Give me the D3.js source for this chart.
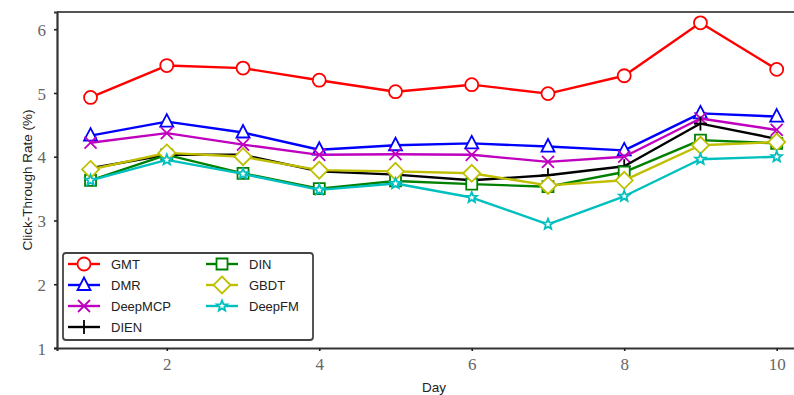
<!DOCTYPE html>
<html>
<head>
<meta charset="utf-8">
<script src="https://cdn.jsdelivr.net/npm/d3@7"></script>
<style>
  body { margin: 0; background: #fff; }
  svg { display: block; }
</style>
</head>
<body>
<div id="viz"></div>
<script>
const width = 794;
const height = 395;
const margin = {top: 12, right: -17, bottom: 46, left: 57};

const days = [1, 2, 3, 4, 5, 6, 7, 8, 9, 10];
const xTicks = [2, 4, 6, 8, 10];
const yTicks = [1, 2, 3, 4, 5, 6];

const names = ['GMT', 'DMR', 'DeepMCP', 'DIEN', 'DIN', 'GBDT', 'DeepFM'];
const gmt     = [4.93, 5.43, 5.39, 5.20, 5.02, 5.13, 4.99, 5.27, 6.10, 5.37];
const dmr     = [4.33, 4.55, 4.38, 4.11, 4.18, 4.21, 4.16, 4.10, 4.68, 4.63];
const deepmcp = [4.22, 4.37, 4.19, 4.03, 4.04, 4.03, 3.92, 4.00, 4.60, 4.42];
const dien    = [3.82, 4.03, 4.03, 3.77, 3.72, 3.63, 3.71, 3.85, 4.52, 4.28];
const din     = [3.63, 4.03, 3.74, 3.50, 3.62, 3.57, 3.53, 3.76, 4.26, 4.21];
const gbdt    = [3.80, 4.06, 4.00, 3.79, 3.77, 3.74, 3.55, 3.63, 4.18, 4.23];
const deepfm  = [3.63, 3.95, 3.73, 3.48, 3.58, 3.36, 2.94, 3.38, 3.96, 4.00];
const seriesValues = [gmt, dmr, deepmcp, dien, din, gbdt, deepfm];

const colors = ['#ff0000', '#0000ff', '#bf00bf', '#000000', '#008000', '#bfbf00', '#00bfbf'];
const markers = ['circle', 'triangle', 'x', 'plus', 'square', 'diamond', 'star'];

// marker outlines, centred on 0,0
function markerPath(type) {
  if (type === 'circle') {
    return 'M6.5,0 A6.5,6.5 0 1,1 -6.5,0 A6.5,6.5 0 1,1 6.5,0 Z';
  }
  if (type === 'triangle') return 'M0,-7.5 L6.5,5 L-6.5,5 Z';
  if (type === 'square') return 'M-5.5,-5.5 L5.5,-5.5 L5.5,5.5 L-5.5,5.5 Z';
  if (type === 'diamond') return 'M0,-8.5 L8.5,0 L0,8.5 L-8.5,0 Z';
  if (type === 'x') return 'M-6,-6 L6,6 M-6,6 L6,-6';
  if (type === 'plus') return 'M-6.5,0 L6.5,0 M0,-7 L0,7';
  if (type === 'star') {
    let p = '';
    for (let i = 0; i < 10; i++) {
      const r = i % 2 === 0 ? 5.5 : 2.4;
      const a = -Math.PI / 2 + i * Math.PI / 5;
      p += (i === 0 ? 'M' : 'L') + (r * Math.cos(a)).toFixed(2) + ',' + (r * Math.sin(a)).toFixed(2);
    }
    return p + 'Z';
  }
}

const svg = d3.select('#viz')
  .append('svg')
    .attr('width', width)
    .attr('height', height);

const x = d3.scaleLinear()
  .domain([0.56, 10.45])
  .range([margin.left, width - margin.right]);

const y = d3.scaleLinear()
  .domain([1, 6.27])
  .range([height - margin.bottom - 1, margin.top]);

const x0 = margin.left, x1 = width - margin.right;
const yTop = margin.top, yBot = height - margin.bottom - 1;

// frame (right side is outside the picture)
svg.append('path')
  .attr('d', `M${x0},${yTop} L${x1},${yTop} L${x1},${yBot}`)
  .attr('fill', 'none')
  .attr('stroke', '#555')
  .attr('stroke-width', 2);

// axes
const xAxis = svg.append('g')
  .attr('transform', `translate(0,${yBot})`)
  .call(d3.axisBottom(x).tickValues(xTicks).tickSize(3).tickPadding(7).tickFormat(d3.format('d')));
const yAxis = svg.append('g')
  .attr('transform', `translate(${x0},0)`)
  .call(d3.axisLeft(y).tickValues(yTicks).tickSize(3).tickPadding(8).tickFormat(d3.format('d')));

[xAxis, yAxis].forEach(a => {
  a.select('.domain').attr('stroke', '#333').attr('stroke-width', 2.2);
  a.selectAll('.tick line').attr('stroke', '#222').attr('stroke-width', 1.6);
  a.selectAll('.tick text')
    .attr('fill', '#666')
    .style('font-family', '"Liberation Serif", "DejaVu Serif", serif')
    .style('font-size', '17px');
});
yAxis.selectAll('.tick text').attr('dy', '0.36em');

// axis labels
svg.append('text')
  .attr('x', 434)
  .attr('y', 392)
  .attr('text-anchor', 'middle')
  .style('font-family', '"Liberation Sans", Arial, sans-serif')
  .style('font-size', '13.5px')
  .attr('fill', '#222')
  .text('Day');

svg.append('text')
  .attr('transform', `translate(32,${(yTop + yBot) / 2}) rotate(-90)`)
  .attr('text-anchor', 'middle')
  .style('font-family', '"Liberation Sans", Arial, sans-serif')
  .style('font-size', '13.5px')
  .attr('fill', '#222')
  .text('Click-Through Rate (%)');

// series
const line = d3.line()
  .x((d, i) => x(days[i]))
  .y(d => y(d));

const series = svg.append('g').attr('class', 'series')
  .selectAll('g')
  .data(seriesValues)
  .join('g');

series.append('path')
  .attr('d', d => line(d))
  .attr('fill', 'none')
  .attr('stroke', (d, i) => colors[i])
  .attr('stroke-width', 2.4)
  .attr('stroke-linejoin', 'round');

series.each(function(vals, si) {
  d3.select(this).selectAll('path.marker')
    .data(vals)
    .join('path')
      .attr('class', 'marker')
      .attr('transform', (d, i) => `translate(${x(days[i])},${y(d)})`)
      .attr('d', markerPath(markers[si]))
      .attr('fill', '#fff')
      .attr('stroke', colors[si])
      .attr('stroke-width', 1.8);
});

// legend
const legend = svg.append('g').attr('class', 'legend');
legend.append('rect')
  .attr('x', 63)
  .attr('y', 253)
  .attr('width', 250)
  .attr('height', 87)
  .attr('rx', 3)
  .attr('fill', '#fff')
  .attr('stroke', '#444')
  .attr('stroke-width', 1.8);

const items = legend.selectAll('g.item')
  .data(names)
  .join('g')
    .attr('class', 'item')
    .attr('transform', (d, i) => {
      const col = i < 4 ? 0 : 1;
      const row = i < 4 ? i : i - 4;
      return `translate(${col === 0 ? 84 : 222},${264 + row * 21})`;
    });

items.append('line')
  .attr('x1', -16).attr('x2', 16)
  .attr('stroke', (d, i) => colors[i])
  .attr('stroke-width', 2.4);
items.append('path')
  .attr('d', (d, i) => markerPath(markers[i]))
  .attr('fill', '#fff')
  .attr('stroke', (d, i) => colors[i])
  .attr('stroke-width', 1.8);
items.append('text')
  .attr('x', 27)
  .attr('dy', '0.36em')
  .style('font-family', '"Liberation Sans", Arial, sans-serif')
  .style('font-size', '13px')
  .attr('fill', '#222')
  .text(d => d);
</script>
</body>
</html>
